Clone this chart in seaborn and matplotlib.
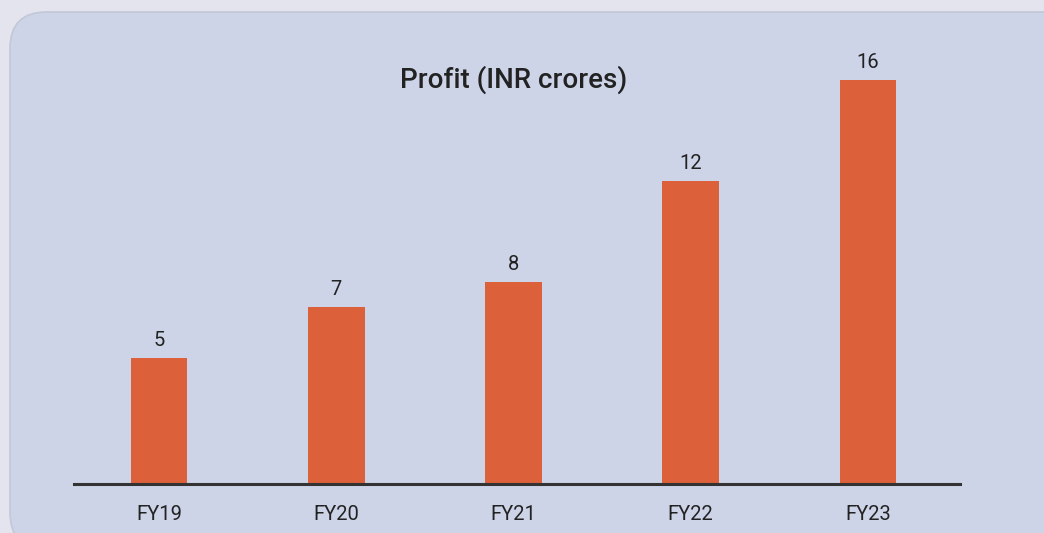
import matplotlib
matplotlib.use("Agg")
from matplotlib import pyplot as plt
from matplotlib.patches import FancyBboxPatch
import seaborn as sns
import pandas as pd

# Data
roky = ["FY19", "FY20", "FY21", "FY22", "FY23"]
zisk = [5, 7, 8, 12, 16]

df = pd.DataFrame({"rok": roky, "zisk": zisk})

sns.set_theme(style="white")
plt.rcParams["font.family"] = ["Roboto", "DejaVu Sans"]

fig = plt.figure(figsize=(10.44, 5.33), dpi=100)
fig.patch.set_facecolor("#e4e4ef")

# Rounded background panel
panel = FancyBboxPatch((10 / 1044, -0.03), 1.2, 1 - 12 / 533 + 0.03,
                       boxstyle="round,pad=0,rounding_size=0.035",
                       transform=fig.transFigure, facecolor="#cdd4e8",
                       edgecolor="#c3c7d6", linewidth=1.2, zorder=-5,
                       mutation_aspect=1044 / 533)
fig.patches.append(panel)

ax = fig.add_axes([74 / 1044, 49 / 533, 886 / 1044, 455 / 533])
ax.set_zorder(2)
ax.set_facecolor("none")
sns.barplot(data=df, x="rok", y="zisk", color="#dc603a", width=0.32,
            saturation=1, linewidth=0, ax=ax)

for i, v in enumerate(zisk):
    ax.text(i, v + 0.3, f"{v}", ha="center", va="bottom",
            fontsize=14.5, color="#222222")

ax.set_xlim(-0.48, 4.52)
ax.set_ylim(0, 18)
ax.set_xlabel("")
ax.set_ylabel("")
ax.set_yticks([])
ax.tick_params(axis="x", length=0, labelsize=14.5, colors="#222222", pad=15)
for s in ["top", "right", "left"]:
    ax.spines[s].set_visible(False)
ax.spines["bottom"].set_color("#333333")
ax.spines["bottom"].set_linewidth(2.2)

fig.text(0.492, 1 - 80 / 533, "Profit (INR crores)", ha="center", va="center",
         fontsize=20, fontweight="medium", color="#222222", zorder=3)

fig.savefig("out.png", dpi=100, facecolor=fig.get_facecolor())
